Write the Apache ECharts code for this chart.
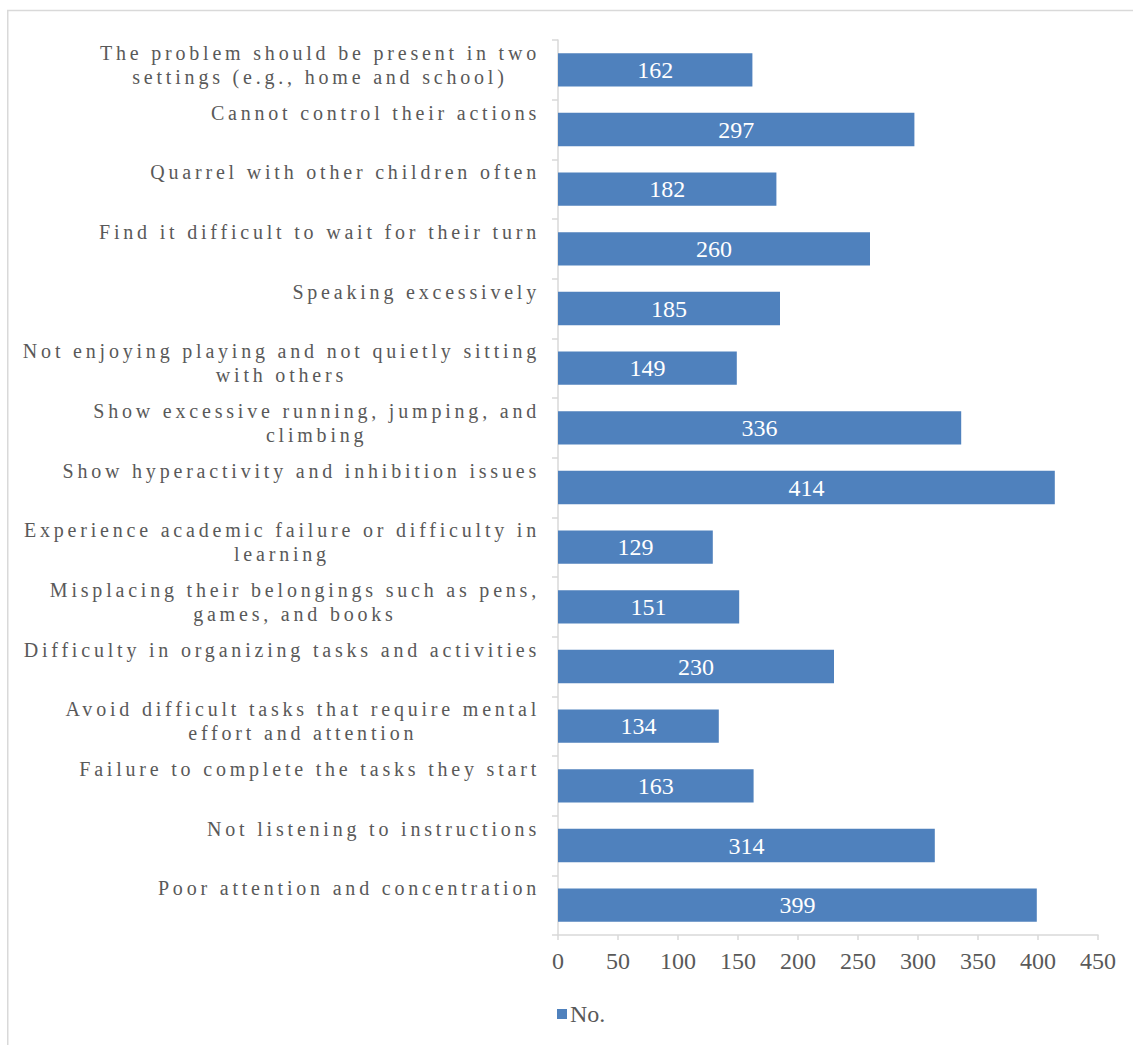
<!DOCTYPE html>
<html>
<head>
<meta charset="utf-8">
<script src="https://cdn.jsdelivr.net/npm/echarts@6/dist/echarts.min.js"></script>
<style>
  html, body { margin: 0; padding: 0; background: #ffffff; }
  #chart { width: 1133px; height: 1045px; }
  /* category labels are drawn at 20px; give them the spaced lettering of the original */
  #chart text[style*="20px"] { letter-spacing: 3.8px; }
</style>
</head>
<body>
<div id="chart"></div>
<script>
// ---- data (top to bottom, as in the picture) ----
const categories = [
  "The problem should be present in two\nsettings (e.g., home and school)",
  "Cannot control their actions",
  "Quarrel with other children often",
  "Find it difficult to wait for their turn",
  "Speaking excessively",
  "Not enjoying playing and not quietly sitting\nwith others",
  "Show excessive running, jumping, and\nclimbing",
  "Show hyperactivity and inhibition issues",
  "Experience academic failure or difficulty in\nlearning",
  "Misplacing their belongings such as pens,\ngames, and books",
  "Difficulty in organizing tasks and activities",
  "Avoid difficult tasks that require mental\neffort and attention",
  "Failure to complete the tasks they start",
  "Not listening to instructions",
  "Poor attention and concentration"
];
const values = [162, 297, 182, 260, 185, 149, 336, 414, 129, 151, 230, 134, 163, 314, 399];
const seriesName = "No.";
const xMin = 0, xMax = 450, xInterval = 50;

// ---- text measuring that knows about the letter spacing of category labels ----
const LETTER_SPACING = 3.8;
const measureCtx = document.createElement('canvas').getContext('2d');
echarts.setPlatformAPI({
  measureText: function (text, font) {
    measureCtx.font = font || '12px sans-serif';
    const w = measureCtx.measureText(text).width;
    const extra = /(^|\s)20px/.test(font || '') ? text.length * LETTER_SPACING : 0;
    return { width: w + extra };
  }
});

const SERIF = "'Liberation Serif', 'Times New Roman', serif";
const TEXT_COLOR = '#595959';
const AXIS_COLOR = '#d9d9d9';
const BAR_COLOR = '#4f81bd';

const chart = echarts.init(document.getElementById('chart'), null, { renderer: 'svg' });

chart.setOption({
  animation: false,
  backgroundColor: '#ffffff',
  graphic: [{
    type: 'rect',
    silent: true,
    shape: { x: 7.75, y: 10.5, width: 1300, height: 1200 },
    style: { fill: 'none', stroke: AXIS_COLOR, lineWidth: 1.5 }
  }],
  grid: { left: 558, right: 35, top: 40, bottom: 110, containLabel: false },
  legend: {
    data: [seriesName],
    left: 552,
    top: 997,
    icon: 'rect',
    itemWidth: 10,
    itemHeight: 10,
    itemGap: 10,
    textStyle: { fontFamily: SERIF, fontSize: 24, color: TEXT_COLOR, padding: [0, 0, 0, -2] }
  },
  xAxis: {
    type: 'value',
    min: xMin,
    max: xMax,
    interval: xInterval,
    axisLine: { show: true, lineStyle: { color: AXIS_COLOR, width: 1.5 } },
    axisTick: { show: true, length: 5, lineStyle: { color: AXIS_COLOR, width: 1.5 } },
    splitLine: { show: false },
    axisLabel: { fontFamily: SERIF, fontSize: 24, color: TEXT_COLOR, margin: 14 }
  },
  yAxis: {
    type: 'category',
    inverse: true,
    data: categories,
    axisLine: { show: true, lineStyle: { color: AXIS_COLOR, width: 1.5 } },
    axisTick: { show: true, length: 6, lineStyle: { color: AXIS_COLOR, width: 1.5 } },
    axisLabel: {
      interval: 0,
      margin: 18,
      align: 'right',
      verticalAlign: 'middle',
      height: 58,
      fontFamily: SERIF,
      fontSize: 20,
      color: TEXT_COLOR,
      formatter: function (v) {
        return v.split('\n').map(function (l) { return '{c|' + l + '}'; }).join('\n');
      },
      rich: {
        c: { align: 'center', fontFamily: SERIF, fontSize: 20, lineHeight: 24, color: TEXT_COLOR }
      }
    }
  },
  series: [{
    name: seriesName,
    type: 'bar',
    data: values,
    barCategoryGap: '44%',
    itemStyle: { color: BAR_COLOR },
    label: {
      show: true,
      position: 'inside',
      color: '#ffffff',
      fontFamily: SERIF,
      fontSize: 24
    }
  }]
});
</script>
</body>
</html>
